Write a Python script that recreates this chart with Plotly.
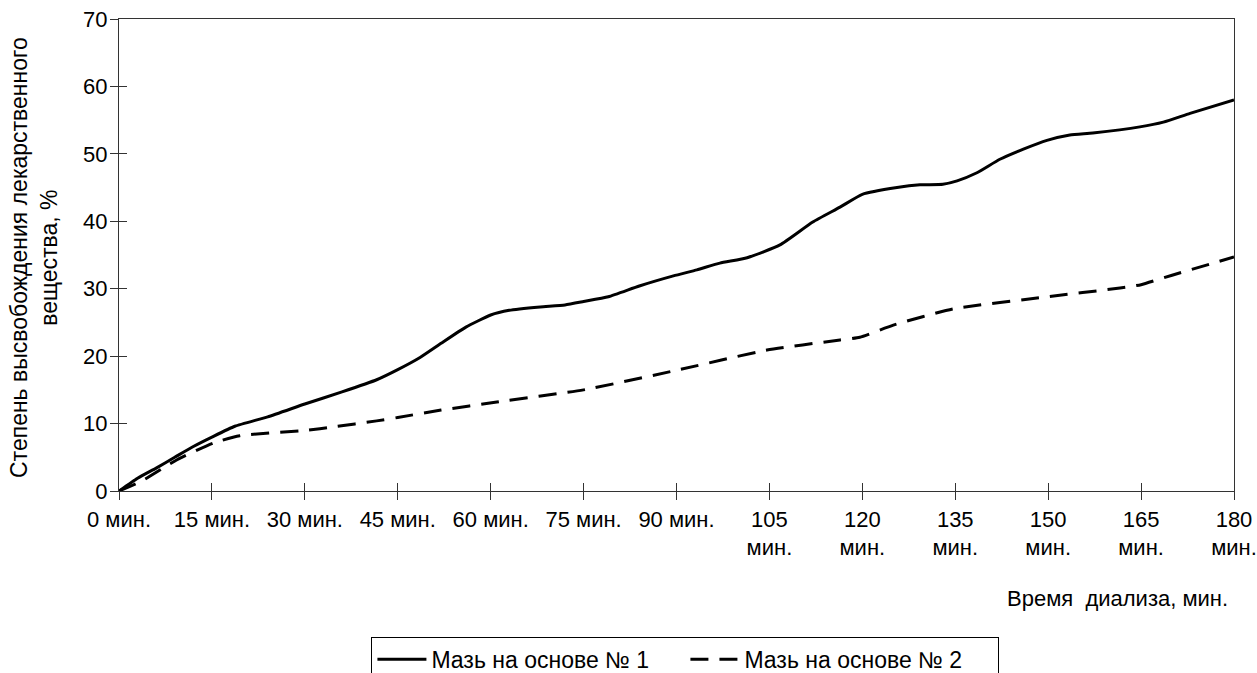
import plotly.graph_objects as go

# ---- data ----
t_base1 = [0, 3, 6, 9, 12, 15, 18.7, 24, 30, 36, 41.6, 45, 48.6, 52, 56, 60, 63, 68, 72, 75,
           79, 84, 89.5, 93.3, 97, 101.4, 106.7, 112, 116.4, 120, 125.6, 129.3, 133, 135.3,
           138.5, 142.2, 146, 149.8, 153.5, 157.2, 164.8, 168.6, 172.9, 180]
y_base1 = [0, 1.9, 3.4, 5.0, 6.6, 8.0, 9.6, 11.0, 12.9, 14.7, 16.5, 18.0, 19.8, 21.9, 24.3, 26.1,
           26.8, 27.3, 27.6, 28.1, 28.8, 30.4, 31.9, 32.8, 33.8, 34.6, 36.5, 39.9, 42.1, 44.0,
           45.0, 45.4, 45.5, 46.0, 47.2, 49.2, 50.7, 52.0, 52.8, 53.1, 54.0, 54.7, 56.0, 58.0]

t_base2 = [0, 3.9, 9.3, 15.2, 19.5, 30.3, 34.6, 41.6, 45, 52, 61, 75, 90, 104.6, 116.4, 119.6,
           125, 134.6, 149.8, 161.6, 165, 170, 180]
y_base2 = [0, 1.6, 4.6, 7.1, 8.2, 9.0, 9.5, 10.4, 10.9, 12.0, 13.2, 15.0, 17.9, 20.9, 22.4, 22.8,
           24.6, 27.0, 28.8, 30.1, 30.6, 32.0, 34.7]

series_names = ["Мазь на основе № 1", "Мазь на основе № 2"]

x_tickvals = [0, 15, 30, 45, 60, 75, 90, 105, 120, 135, 150, 165, 180]
x_ticktext = ["0 мин.", "15 мин.", "30 мин.", "45 мин.", "60 мин.", "75 мин.", "90 мин.",
              "105<br>мин.", "120<br>мин.", "135<br>мин.", "150<br>мин.", "165<br>мин.", "180<br>мин."]
y_tickvals = [0, 10, 20, 30, 40, 50, 60, 70]

y_title = "Степень высвобождения лекарственного<br>вещества, %"
x_title = "Время  диализа, мин."

FONT = "Liberation Sans, Arial, sans-serif"
FS = 22
AXC = "#333333"

fig = go.Figure()
fig.add_trace(go.Scatter(x=t_base1, y=y_base1, mode="lines", name=series_names[0],
                         line=dict(color="black", width=3, shape="spline", smoothing=0.5)))
fig.add_trace(go.Scatter(x=t_base2, y=y_base2, mode="lines", name=series_names[1],
                         line=dict(color="black", width=3, dash="18px,11px", shape="spline", smoothing=0.5)))
# invisible trace on overlay axes (for the inner half of crossing tick marks)
fig.add_trace(go.Scatter(x=t_base1, y=y_base1, mode="lines", xaxis="x2", yaxis="y2",
                         line=dict(width=0, color="rgba(0,0,0,0)"), showlegend=False, hoverinfo="skip"))

fig.update_layout(
    template="none",
    width=1257, height=673,
    margin=dict(l=119, r=23, t=19, b=182, autoexpand=False),
    paper_bgcolor="white", plot_bgcolor="white",
    font=dict(family=FONT, size=FS, color="black"),
    showlegend=True,
    legend=dict(orientation="h", x=0.508, xanchor="center", y=-0.309, yanchor="top",
                bordercolor="black", borderwidth=1, bgcolor="white", itemwidth=49,
                font=dict(family=FONT, size=23, color="black"), entrywidth=249),
    xaxis=dict(range=[0, 180], tickvals=x_tickvals, ticktext=x_ticktext, automargin=False,
               showgrid=False, zeroline=False, showline=True, linecolor=AXC, linewidth=1.3,
               mirror=True, ticks="outside", ticklen=8, tickcolor=AXC, tickwidth=1.3,
               ticklabeloverflow="allow",
               tickfont=dict(family=FONT, size=FS, color="black"), tickangle=0),
    yaxis=dict(range=[0, 70], tickvals=y_tickvals, automargin=False,
               showgrid=False, zeroline=False, showline=True, linecolor=AXC, linewidth=1.3,
               mirror=True, ticks="outside", ticklen=8, tickcolor=AXC, tickwidth=1.3,
               ticklabeloverflow="allow",
               tickfont=dict(family=FONT, size=FS, color="black"), ticklabelstandoff=-2),
    xaxis2=dict(range=[0, 180], tickvals=x_tickvals, overlaying="x", anchor="y2", side="bottom",
                automargin=False, showgrid=False, zeroline=False, showline=False, showticklabels=False,
                ticks="inside", ticklen=8, tickcolor=AXC, tickwidth=1.3),
    yaxis2=dict(range=[0, 70], tickvals=y_tickvals, overlaying="y", anchor="x2", side="left",
                automargin=False, showgrid=False, zeroline=False, showline=False, showticklabels=False,
                ticks="inside", ticklen=8, tickcolor=AXC, tickwidth=1.3),
    annotations=[
        dict(text=y_title, xref="paper", yref="paper", x=0, y=0.5, xanchor="center", yanchor="middle",
             xshift=-85, yshift=-3, textangle=-90, showarrow=False,
             font=dict(family=FONT, size=23, color="black")),
        dict(text=x_title, xref="paper", yref="paper", x=1, y=0, xanchor="right", yanchor="middle",
             xshift=-4, yshift=-107, showarrow=False, font=dict(family=FONT, size=FS, color="black")),
    ],
)

# remove the default 8px page margin so the 1257x673 figure fills the window exactly
fig.write_html("out.html", config={"displayModeBar": False},
               post_script="document.body.style.margin='0';document.body.style.overflow='hidden';")
